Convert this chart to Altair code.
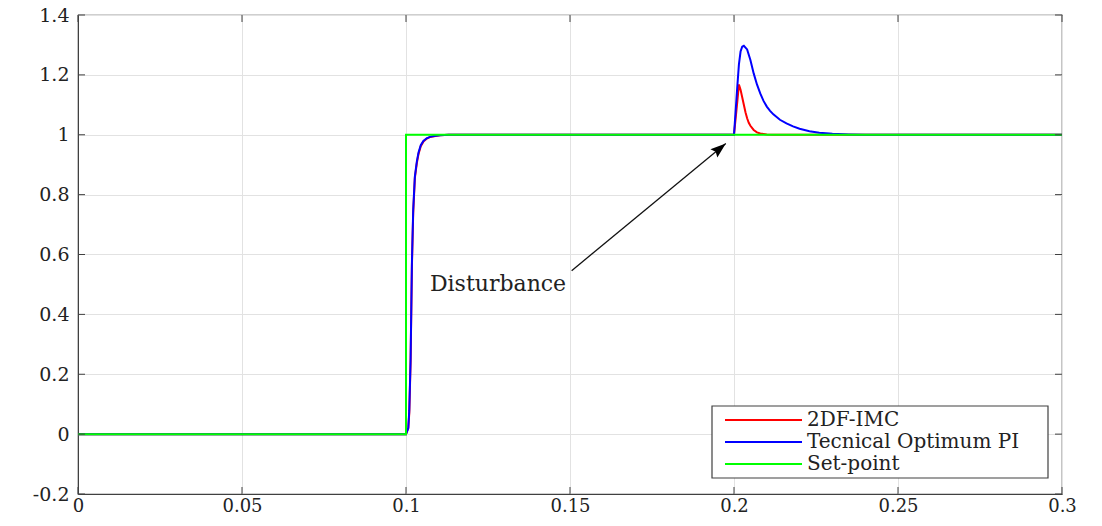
import altair as alt
import pandas as pd

# ---------------- data ----------------
t_imc = [0, 0.1, 0.1007, 0.101, 0.1014, 0.1018, 0.1022, 0.1027, 0.1033, 0.1038,
         0.1045, 0.1053, 0.1063, 0.1073, 0.109, 0.1104, 0.113,
         0.2, 0.2005, 0.201, 0.2015, 0.202, 0.2025, 0.203, 0.2035, 0.204,
         0.2045, 0.205, 0.206, 0.207, 0.208, 0.21, 0.212, 0.3]
y_imc = [0, 0, 0.02, 0.07, 0.24, 0.56, 0.74, 0.855, 0.905, 0.935,
         0.962, 0.977, 0.987, 0.992, 0.996, 0.998, 1.0,
         1.0, 1.055, 1.11, 1.168, 1.15, 1.125, 1.10, 1.075, 1.055,
         1.04, 1.03, 1.016, 1.008, 1.004, 1.001, 1.0, 1.0]

t_to = [0, 0.1, 0.1007, 0.101, 0.1014, 0.1018, 0.1022, 0.1027, 0.1033, 0.1038,
        0.1045, 0.1053, 0.1063, 0.1073, 0.109, 0.1104, 0.113,
        0.2, 0.2005, 0.201, 0.2015, 0.202, 0.2025, 0.203, 0.204,
        0.205, 0.206, 0.207, 0.208, 0.209, 0.21, 0.211, 0.212, 0.214, 0.216,
        0.218, 0.22, 0.223, 0.226, 0.23, 0.235, 0.24, 0.3]
y_to = [0, 0, 0.02, 0.08, 0.25, 0.57, 0.75, 0.86, 0.91, 0.94,
        0.965, 0.979, 0.988, 0.993, 0.997, 0.998, 1.0,
        1.0, 1.08, 1.16, 1.235, 1.278, 1.294, 1.297, 1.285,
        1.25, 1.205, 1.168, 1.138, 1.113, 1.094, 1.08, 1.068, 1.05, 1.038,
        1.028, 1.02, 1.012, 1.007, 1.003, 1.001, 1.0, 1.0]

t_sp = [0, 0.1, 0.1, 0.3]
y_sp = [0, 0, 1, 1]

series_names = ["2DF-IMC", "Tecnical Optimum PI", "Set-point"]
series_colors = ["#ff0000", "#0000ff", "#00ff00"]

x_ticks = [0, 0.05, 0.1, 0.15, 0.2, 0.25, 0.3]
y_ticks = [-0.2, 0, 0.2, 0.4, 0.6, 0.8, 1, 1.2, 1.4]

annot_text = ["Disturbance"]
annot_t = [0.1073]
annot_v = [0.477]
arrow_t = [0.1505, 0.1975]
arrow_v = [0.546, 0.971]

# ---------------- layout ----------------
W, H = 984, 479
FONT = "DejaVu Serif"
AX = "#404040"
XS = alt.Scale(domain=[0, 0.3], nice=False, zero=False)
YS = alt.Scale(domain=[-0.2, 1.4], nice=False, zero=False)


def series_df(t, y):
    return pd.DataFrame({"t": t, "v": y, "i": list(range(len(t)))})


xaxis = alt.Axis(values=x_ticks, grid=True, gridColor="#e2e2e2", ticks=False,
                 domainColor=AX, labelFont=FONT, labelFontSize=18, labelColor="#222",
                 labelPadding=3, labelExpr="'' + datum.value", title=None,
                 labelFlush=False)
yaxis = alt.Axis(values=y_ticks, grid=True, gridColor="#e2e2e2", ticks=False,
                 domainColor=AX, labelFont=FONT, labelFontSize=19, labelColor="#222",
                 labelPadding=9, labelExpr="'' + datum.value", title=None,
                 labelFlush=False)


def X(f):
    return alt.X(f, scale=XS, axis=xaxis)


def Y(f):
    return alt.Y(f, scale=YS, axis=yaxis)


def line_layer(t, y, color):
    return alt.Chart(series_df(t, y)).mark_line(
        color=color, strokeWidth=2, clip=True
    ).encode(x=X("t:Q"), y=Y("v:Q"), order="i:Q")


red = line_layer(t_imc, y_imc, series_colors[0])
blue = line_layer(t_to, y_to, series_colors[1])
green = line_layer(t_sp, y_sp, series_colors[2])

# inward tick marks on all four sides
xt = pd.DataFrame({"t": x_ticks})
yt = pd.DataFrame({"v": y_ticks})
tick_b = alt.Chart(xt).mark_rule(color=AX, strokeWidth=1).encode(
    x=X("t:Q"), y=alt.value(H), y2=alt.value(H - 7))
tick_t = alt.Chart(xt).mark_rule(color=AX, strokeWidth=1).encode(
    x=X("t:Q"), y=alt.value(0), y2=alt.value(7))
tick_l = alt.Chart(yt).mark_rule(color=AX, strokeWidth=1).encode(
    y=Y("v:Q"), x=alt.value(0), x2=alt.value(7))
tick_r = alt.Chart(yt).mark_rule(color=AX, strokeWidth=1).encode(
    y=Y("v:Q"), x=alt.value(W), x2=alt.value(W - 7))

# annotation: text + arrow
ann = alt.Chart(pd.DataFrame({"t": annot_t, "v": annot_v, "s": annot_text})).mark_text(
    font=FONT, fontSize=22, align="left", baseline="alphabetic", color="#222"
).encode(x=X("t:Q"), y=Y("v:Q"), text="s:N")

arr_df = pd.DataFrame({"t1": [arrow_t[0]], "v1": [arrow_v[0]],
                       "t2": [arrow_t[1]], "v2": [arrow_v[1]]})
arrow_line = alt.Chart(arr_df).mark_rule(color="#111", strokeWidth=1.3).encode(
    x=X("t1:Q"), y=Y("v1:Q"), x2="t2:Q", y2="v2:Q",
)
arrow_head = alt.Chart(arr_df).mark_point(
    shape="M0,0L0.7,2L0,1.7L-0.7,2Z", filled=True, size=240, color="#000",
    opacity=1, angle=50.3, strokeWidth=0,
).encode(x=X("t2:Q"), y=Y("v2:Q"))

# manual legend (box position in pixels of the plot area)
one = alt.Data(values=[{}])
LX0, LX1, LY0, LY1 = 634, 970, 391, 463
leg_box = alt.Chart(one).mark_rect(fill="white", stroke=AX, strokeWidth=1.2).encode(
    x=alt.value(LX0), x2=alt.value(LX1), y=alt.value(LY0), y2=alt.value(LY1))
leg_layers = [leg_box]
row_y = [405, 427, 449]
for name, col, ry in zip(series_names, series_colors, row_y):
    leg_layers.append(alt.Chart(one).mark_rule(color=col, strokeWidth=2).encode(
        x=alt.value(647), x2=alt.value(724), y=alt.value(ry)))
    leg_layers.append(alt.Chart(one).mark_text(
        font=FONT, fontSize=20, align="left", baseline="middle", color="#222"
    ).encode(x=alt.value(729), y=alt.value(ry), text=alt.value(name)))

chart = alt.layer(
    red, blue, green, tick_b, tick_t, tick_l, tick_r,
    arrow_line, arrow_head, ann, *leg_layers
).properties(
    width=W, height=H,
    autosize=alt.AutoSizeParams(type="none"),
    padding={"left": 70, "top": 7, "right": 30, "bottom": 24},
    background="white",
).configure_view(stroke=AX, strokeWidth=1.2)

chart.save("out.html", embed_options={"renderer": "svg", "actions": False})
